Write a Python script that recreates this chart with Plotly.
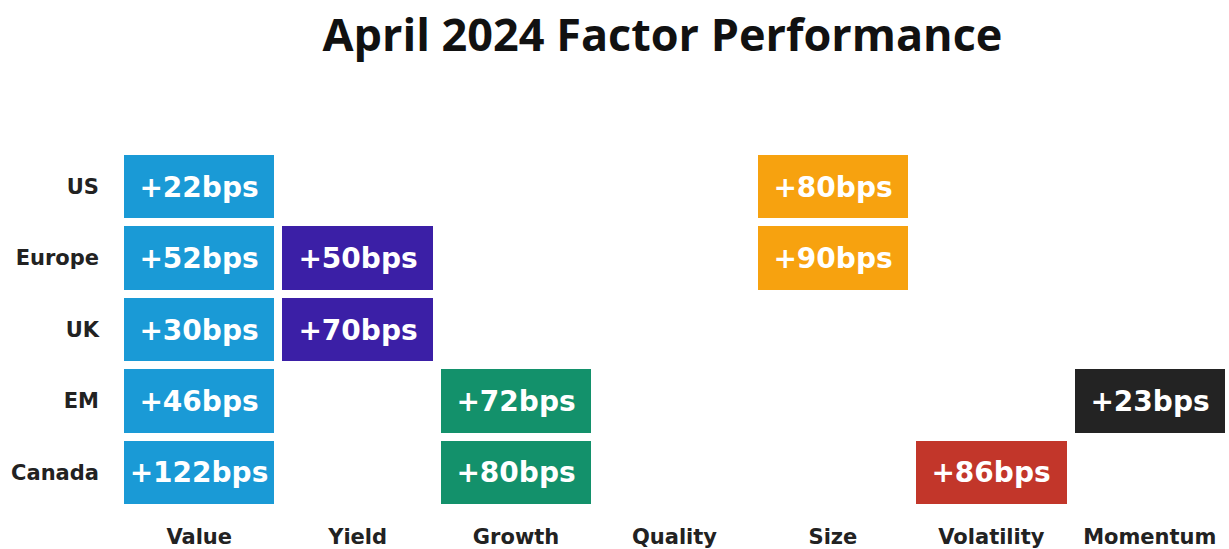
import plotly.graph_objects as go

factors = ["Value", "Yield", "Growth", "Quality", "Size", "Volatility", "Momentum"]
regions = ["US", "Europe", "UK", "EM", "Canada"]
factor_colors = ["#1a9ad6", "#3b1fa6", "#13916b", "#9e9e9e", "#f7a20f", "#c2362a", "#232323"]

# bps values per region (None = no highlight)
us = [22, None, None, None, 80, None, None]
europe = [52, 50, None, None, 90, None, None]
uk = [30, 70, None, None, None, None, None]
em = [46, None, 72, None, None, None, 23]
canada = [122, None, 80, None, None, 86, None]

rows = [us, europe, uk, em, canada]

z = [[(j if v is not None else None) for j, v in enumerate(r)] for r in rows]
text = [[(f"+{v}bps" if v is not None else "") for v in r] for r in rows]

n = len(factors) - 1
colorscale = [[j / n, c] for j, c in enumerate(factor_colors)]

fig = go.Figure(go.Heatmap(
    x=factors, y=regions, z=z, text=text,
    texttemplate="%{text}",
    textfont=dict(family="DejaVu Sans", size=28, color="white", weight="bold"),
    colorscale=colorscale, zmin=0, zmax=n, showscale=False,
    xgap=8, ygap=8, hoverinfo="skip",
))

fig.update_layout(
    width=1229, height=549,
    margin=dict(l=120, r=0, t=151, b=41, autoexpand=False),
    paper_bgcolor="white", plot_bgcolor="white",
    title=dict(text="<b>April 2024 Factor Performance</b>", x=0.539, xanchor="center",
               y=0.935, yanchor="middle", automargin=False,
               font=dict(family="Open Sans", size=45, color="#111111")),
    xaxis=dict(showgrid=False, zeroline=False, ticks="", side="bottom", automargin=False,
               tickfont=dict(family="DejaVu Sans", size=21, color="#222222", weight="bold"),
               ticklabelstandoff=14),
    yaxis=dict(showgrid=False, zeroline=False, ticks="", autorange="reversed", automargin=False,
               tickfont=dict(family="DejaVu Sans", size=21, color="#222222", weight="bold"),
               ticklabelstandoff=20),
)

fig.write_html("out.html", config={"displayModeBar": False},
               post_script="document.body.style.margin='0';document.body.style.overflow='hidden';")
